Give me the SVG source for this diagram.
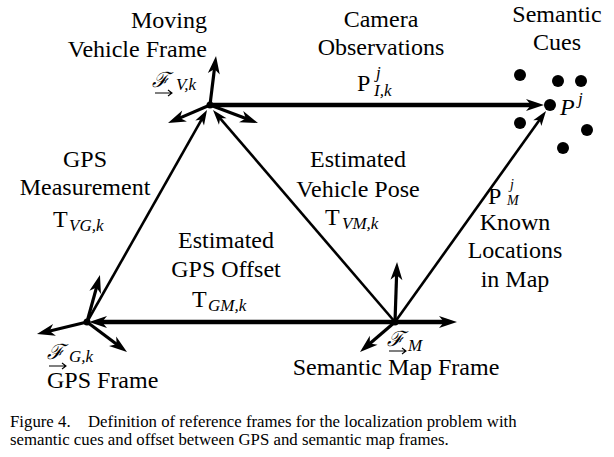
<svg xmlns="http://www.w3.org/2000/svg" width="614" height="457" viewBox="0 0 614 457">
<style>
text{font-family:"Liberation Serif","Times New Roman",serif;fill:#000}
.t{font-size:24px}
.s{font-size:17px;font-style:italic}
.sm{font-size:14px;font-style:italic}
.it{font-style:italic}
.cap{font-size:16.8px}
.scr{font-family:"DejaVu Serif","Liberation Serif",serif;font-style:italic;font-size:21px}
.thick{stroke:#000;stroke-width:4.5;fill:none;marker-end:url(#ah)}
.axis{stroke:#000;stroke-width:3.2;fill:none;marker-end:url(#ah)}
.diag{stroke:#000;stroke-width:2.6;fill:none;marker-end:url(#ahs)}
.ua{stroke:#000;stroke-width:1.1;fill:none}
</style>
<defs>
<marker id="ah" markerUnits="userSpaceOnUse" markerWidth="20" markerHeight="14" refX="8" refY="6" orient="auto" overflow="visible">
<path d="M0,0 L18,6 L0,12 L5,6 Z" fill="#000"/>
</marker>
<marker id="ahs" markerUnits="userSpaceOnUse" markerWidth="18" markerHeight="12" refX="5" refY="5" orient="auto" overflow="visible">
<path d="M0,0 L15,5 L0,10 L4,5 Z" fill="#000"/>
</marker>
</defs>

<g id="connectors">
<line class="thick" x1="210" y1="105" x2="534" y2="105"/>
<line class="thick" x1="395" y1="322" x2="99" y2="322"/>
<line class="diag" x1="87" y1="322" x2="202.1" y2="118.7"/>
<line class="diag" x1="395" y1="322" x2="219.5" y2="117.6"/>
<line class="diag" x1="395" y1="322" x2="540.2" y2="119.1"/>
</g>

<g id="vehicle-frame">
<line class="axis" x1="210" y1="105" x2="214.8" y2="65.9"/>
<line class="axis" x1="210" y1="105" x2="177.2" y2="119.1"/>
<line class="axis" x1="210" y1="105" x2="248.6" y2="119.5"/>
<circle cx="210" cy="105" r="3.5" fill="#000"/>
<text class="t" x="207" y="28" text-anchor="end">Moving</text>
<text class="t" x="207" y="57" text-anchor="end">Vehicle Frame</text>
<text class="scr" x="152" y="87">ℱ</text>
<path class="ua" d="M155,93 H172 M168,90 L172,93 L168,96"/>
<text class="s" x="176" y="90">V,k</text>
</g>

<g id="gps-frame">
<line class="axis" x1="87" y1="322" x2="97.3" y2="284.6"/>
<line class="axis" x1="87" y1="322" x2="46.7" y2="331.7"/>
<line class="axis" x1="87" y1="322" x2="119" y2="346"/>
<circle cx="87" cy="322" r="3.5" fill="#000"/>
<text class="scr" x="47" y="359">ℱ</text>
<path class="ua" d="M49,366 H66 M62,363 L66,366 L62,369"/>
<text class="s" x="69" y="362">G,k</text>
<text class="t" x="47" y="388">GPS Frame</text>
</g>

<g id="map-frame">
<line class="axis" x1="395" y1="322" x2="396.7" y2="272"/>
<line class="thick" x1="395" y1="322" x2="447" y2="322"/>
<line class="axis" x1="395" y1="322" x2="367.6" y2="345.5"/>
<circle cx="395" cy="322" r="3.5" fill="#000"/>
<text class="scr" x="387" y="346">ℱ</text>
<path class="ua" d="M389,351 H406 M402,348 L406,351 L402,354"/>
<text class="s" x="408" y="351">M</text>
<text class="t" x="396" y="375" text-anchor="middle">Semantic Map Frame</text>
</g>

<g id="semantic-cues">
<circle cx="520" cy="75" r="6" fill="#000"/>
<circle cx="558" cy="81" r="6" fill="#000"/>
<circle cx="581" cy="81" r="6" fill="#000"/>
<circle cx="550" cy="105" r="6" fill="#000"/>
<circle cx="520" cy="123" r="6" fill="#000"/>
<circle cx="587" cy="130" r="6" fill="#000"/>
<circle cx="563" cy="148" r="6" fill="#000"/>
<text class="t" x="557" y="22" text-anchor="middle">Semantic</text>
<text class="t" x="557" y="50" text-anchor="middle">Cues</text>
<text class="t it" x="560" y="115">P</text>
<text class="s" x="578" y="104">j</text>
</g>

<g id="label-camera">
<text class="t" x="381" y="27" text-anchor="middle">Camera</text>
<text class="t" x="381" y="55" text-anchor="middle">Observations</text>
<text class="t" x="357" y="91">P</text>
<text class="s" x="376" y="78">j</text>
<text class="s" x="374" y="96">I,k</text>
</g>

<g id="label-gps-meas">
<text class="t" x="85" y="167" text-anchor="middle">GPS</text>
<text class="t" x="85" y="195" text-anchor="middle">Measurement</text>
<text class="t" x="53" y="227">T</text>
<text class="s" x="69" y="231">VG,k</text>
</g>

<g id="label-gps-offset">
<text class="t" x="226" y="248" text-anchor="middle">Estimated</text>
<text class="t" x="226" y="277" text-anchor="middle">GPS Offset</text>
<text class="t" x="192" y="307">T</text>
<text class="s" x="208" y="311">GM,k</text>
</g>

<g id="label-vehicle-pose">
<text class="t" x="358" y="167" text-anchor="middle">Estimated</text>
<text class="t" x="358" y="197" text-anchor="middle">Vehicle Pose</text>
<text class="t" x="325" y="225">T</text>
<text class="s" x="342" y="229">VM,k</text>
</g>

<g id="label-known">
<text class="t" x="488" y="204">P</text>
<text class="sm" x="510" y="189">j</text>
<text class="sm" x="507" y="205">M</text>
<text class="t" x="515" y="230" text-anchor="middle">Known</text>
<text class="t" x="515" y="258" text-anchor="middle">Locations</text>
<text class="t" x="515" y="287" text-anchor="middle">in Map</text>
</g>

<g id="caption">
<text class="cap" y="427"><tspan x="10">Figure 4.</tspan><tspan x="88">Definition of reference frames for the localization problem with</tspan></text>
<text class="cap" x="10" y="445">semantic cues and offset between GPS and semantic map frames.</text>
</g>
</svg>
